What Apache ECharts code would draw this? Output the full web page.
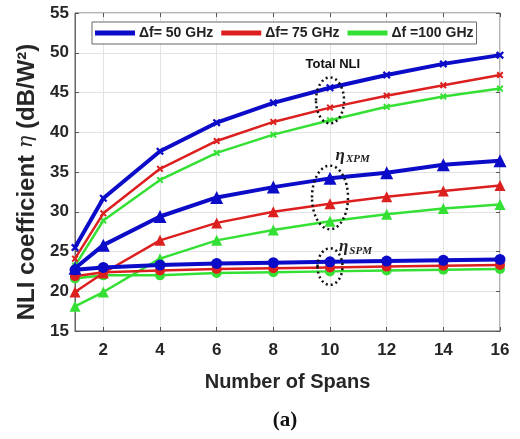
<!DOCTYPE html>
<html>
<head>
    <meta charset="utf-8">
    <title>NLI coefficient</title>
    <script src="https://cdn.jsdelivr.net/npm/echarts@6/dist/echarts.min.js"></script>
</head>
<body style="margin: 0;">
    <div id="main" style="width: 520px; height: 439px;"></div>

    <script>
        // data
        var spans = [1, 2, 4, 6, 8, 10, 12, 14, 16]
        var xTicks = [2, 4, 6, 8, 10, 12, 14, 16]
        var yTicks = [15, 20, 25, 30, 35, 40, 45, 50, 55]

        var total50 = [25.5, 31.7, 37.6, 41.2, 43.7, 45.6, 47.2, 48.6, 49.7]
        var total75 = [24.1, 29.8, 35.4, 38.9, 41.3, 43.1, 44.6, 45.9, 47.2]
        var total100 = [23.2, 28.9, 34.0, 37.4, 39.7, 41.5, 43.2, 44.5, 45.5]

        var xpm50 = [22.9, 25.8, 29.4, 31.8, 33.1, 34.2, 34.9, 35.9, 36.4]
        var xpm75 = [19.9, 22.3, 26.4, 28.6, 30.0, 31.0, 31.9, 32.6, 33.3]
        var xpm100 = [18.1, 19.9, 24.1, 26.4, 27.7, 28.8, 29.7, 30.4, 30.9]

        var spm50 = [22.7, 23.0, 23.3, 23.5, 23.6, 23.7, 23.8, 23.9, 24.0]
        var spm75 = [21.9, 22.4, 22.6, 22.8, 22.9, 23.0, 23.1, 23.2, 23.3]
        var spm100 = [21.6, 22.0, 22.0, 22.3, 22.4, 22.5, 22.6, 22.7, 22.8]

        var names = ['Δf= 50 GHz', 'Δf= 75 GHz', 'Δf =100 GHz']
        var colors = ['#0b0bc8', '#dc2020', '#35e035']

        var element = document.querySelector('#main')
        var myChart = echarts.init(element)

        var pairs = function(ys) {
            var out = []
            for (var i = 0; i < spans.length; i++) {
                out.push([spans[i], ys[i]])
            }
            return out
        }

        // small filled "x" marker for total NLI
        var cross = 'path://M2,0L5,3L8,0L10,2L7,5L10,8L8,10L5,7L2,10L0,8L3,5L0,2Z'

        var makeSeries = function(idx, ys, symbol, size) {
            var w = idx == 0 ? 4 : 2.5
            return {
                name: names[idx],
                type: 'line',
                data: pairs(ys),
                symbol: symbol,
                symbolSize: size,
                showAllSymbol: true,
                lineStyle: {color: colors[idx], width: w},
                itemStyle: {color: colors[idx]},
                emphasis: {disabled: true},
                z: 3 - idx
            }
        }

        var series = [
            makeSeries(0, total50, cross, 8),
            makeSeries(1, total75, cross, 7),
            makeSeries(2, total100, cross, 7),
            makeSeries(0, xpm50, 'triangle', 13),
            makeSeries(1, xpm75, 'triangle', 11),
            makeSeries(2, xpm100, 'triangle', 11),
            makeSeries(0, spm50, 'circle', 11),
            makeSeries(1, spm75, 'circle', 10),
            makeSeries(2, spm100, 'circle', 10)
        ]

        var tickStyle = {inside: true, length: 4, lineStyle: {color: '#555'}}
        var gridLine = {show: true, lineStyle: {color: '#e3e3e3', width: 1}}
        var labelFont = {fontFamily: 'Liberation Sans', fontWeight: 'bold', fontSize: 17, color: '#262626'}

        var option = {
            animation: false,
            backgroundColor: '#fff',
            grid: {left: 75, right: 20, top: 13, bottom: 108, show: true, borderColor: '#666', borderWidth: 1},
            legend: {
                data: names,
                left: 92,
                top: 22,
                icon: 'rect',
                itemWidth: 40,
                itemHeight: 5,
                itemGap: 8,
                padding: [4, 3, 4, 3],
                backgroundColor: '#fff',
                borderColor: '#666',
                borderWidth: 1,
                selectedMode: false,
                textStyle: {fontFamily: 'Liberation Sans', fontWeight: 'bold', fontSize: 14, color: '#222', padding: [0, 0, 0, -1]}
            },
            xAxis: [{
                type: 'value',
                min: 1,
                max: 16,
                name: 'Number of Spans',
                nameLocation: 'middle',
                nameGap: 41,
                nameTextStyle: {fontFamily: 'Liberation Sans', fontWeight: 'bold', fontSize: 20, color: '#262626'},
                axisLine: {show: true, lineStyle: {color: '#666'}},
                axisTick: {show: true, inside: true, length: 4, lineStyle: {color: '#555'}, customValues: xTicks},
                axisLabel: Object.assign({margin: 11, customValues: xTicks}, labelFont),
                splitLine: gridLine
            }, {
                type: 'value',
                min: 1,
                max: 16,
                position: 'top',
                axisLine: {show: false},
                axisTick: {show: true, inside: true, length: 4, lineStyle: {color: '#555'}, customValues: xTicks},
                axisLabel: {show: false, customValues: xTicks},
                splitLine: {show: false}
            }],
            yAxis: [{
                type: 'value',
                min: 15,
                max: 55,
                interval: 5,
                name: 'NLI coefficient {e|η} (dB/W²)',
                nameLocation: 'middle',
                nameGap: 36,
                nameTextStyle: {
                    fontFamily: 'Liberation Sans', fontWeight: 'bold', fontSize: 24, color: '#262626',
                    padding: [0, 20, 0, 0],
                    rich: {e: {fontFamily: 'DejaVu Serif', fontStyle: 'italic', fontWeight: 'normal', fontSize: 21, color: '#262626'}}
                },
                axisLine: {show: true, lineStyle: {color: '#666'}},
                axisTick: tickStyle,
                axisLabel: Object.assign({margin: 6, formatter: function(v) {
                    return yTicks.indexOf(v) >= 0 ? String(v) : ''
                }}, labelFont),
                splitLine: gridLine
            }, {
                type: 'value',
                min: 15,
                max: 55,
                interval: 5,
                position: 'right',
                axisLine: {show: false},
                axisTick: tickStyle,
                axisLabel: {show: false},
                splitLine: {show: false}
            }],
            series: series
        }

        myChart.setOption(option)

        // annotations placed from data coordinates
        var px = function(x, y) {
            return myChart.convertToPixel({gridIndex: 0}, [x, y])
        }
        var unitY = px(10, 15)[1] - px(10, 16)[1]

        var ellipse = function(y, rx, ry) {
            var c = px(10, y)
            return {
                type: 'ellipse',
                shape: {cx: c[0], cy: c[1], rx: rx, ry: ry * unitY},
                style: {fill: null, stroke: '#111', lineWidth: 2.5, lineDash: [2, 3]},
                z: 10
            }
        }

        var annText = function(x, y, rich, text) {
            var p = px(x, y)
            return {
                type: 'text',
                x: p[0],
                y: p[1],
                style: {
                    text: text,
                    align: 'center',
                    verticalAlign: 'middle',
                    rich: rich
                },
                z: 10
            }
        }

        var etaRich = {
            e: {fontFamily: 'Liberation Serif', fontStyle: 'italic', fontWeight: 'bold', fontSize: 17, fill: '#222'},
            s: {fontFamily: 'Liberation Serif', fontStyle: 'italic', fontWeight: 'bold', fontSize: 11, fill: '#222', padding: [8, 0, 0, 1]}
        }

        myChart.setOption({
            graphic: [
                ellipse(44.0, 14, 2.9),
                ellipse(31.8, 18, 4.0),
                ellipse(23.1, 12.5, 2.3),
                annText(10.1, 48.5, {t: {fontFamily: 'Liberation Sans', fontWeight: 'bold', fontSize: 13, fill: '#111'}}, '{t|Total NLI}'),
                annText(10.8, 37.1, etaRich, '{e|η}{s|XPM}'),
                annText(10.9, 25.6, etaRich, '{e|η}{s|SPM}'),
                {
                    type: 'text',
                    x: 285,
                    y: 421,
                    style: {
                        text: '(a)',
                        align: 'center',
                        verticalAlign: 'middle',
                        font: 'bold 21px "Liberation Serif"',
                        fill: '#111'
                    }
                }
            ]
        })
    </script>
</body>
</html>
